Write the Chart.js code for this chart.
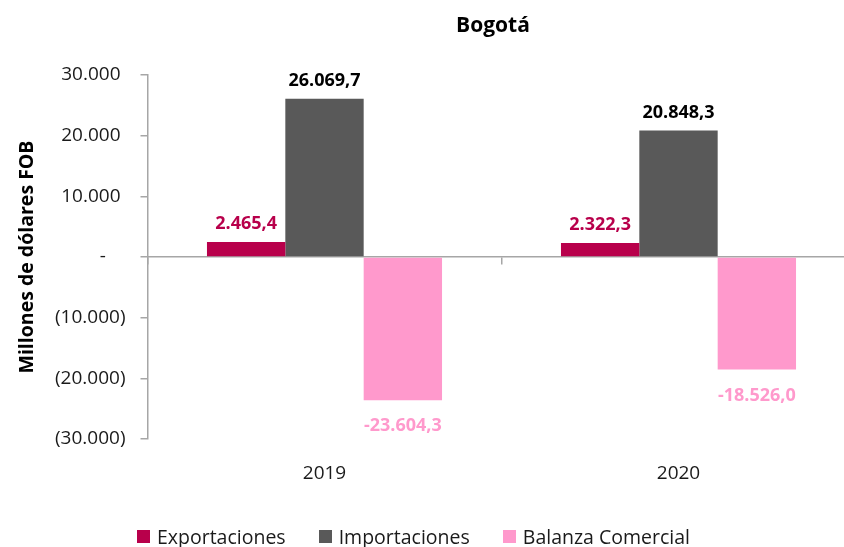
<!DOCTYPE html>
<html>
<head>
<meta charset="utf-8">
<script src="https://cdn.jsdelivr.net/npm/chart.js@4.4.1/dist/chart.umd.min.js"></script>
<style>
    html, body { margin: 0; padding: 0; background: #fff; overflow: hidden; }
    #wrap { position: relative; width: 844px; height: 547px; overflow: hidden; font-family: 'Open Sans', sans-serif; }
    #chart { position: absolute; left: 0; top: 0; }
    #title { position: absolute; top: 10px; left: 0; width: 986px; text-align: center; font-weight: bold; font-size: 21px; color: #000; }
    #legend { position: absolute; top: 523px; left: 137px; display: flex; font-size: 19.5px; color: #1a1a1a; white-space: nowrap; }
    #legend .item { display: flex; align-items: center; margin-right: 33px; }
    #legend .box { width: 13px; height: 13px; margin-right: 7px; }
</style>
</head>
<body>
<div id="wrap">
    <canvas id="chart" width="870" height="547"></canvas>
    <div id="title">Bogotá</div>
    <div id="legend"></div>
</div>
<script>
// Data
const years = ['2019', '2020'];
const exportaciones = [2465.4, 2322.3];
const importaciones = [26069.7, 20848.3];
const balanza = [-23604.3, -18526.0];
const seriesNames = ['Exportaciones', 'Importaciones', 'Balanza Comercial'];
const yTicks = [-30000, -20000, -10000, 0, 10000, 20000, 30000];

const colors = ['#b8004b', '#595959', '#ff99cc'];
const labelColors = ['#b8004b', '#000000', '#ff99cc'];
const FONT = "'Open Sans', sans-serif";

// 2.465,4 style
function fmtNum(v, dec) {
    const parts = Math.abs(v).toFixed(dec).split('.');
    const intPart = parts[0].replace(/\B(?=(\d{3})+(?!\d))/g, '.');
    return (v < 0 ? '-' : '') + intPart + (dec > 0 ? ',' + parts[1] : '');
}

// accounting style tick labels: 30.000 / - / (10.000)
function fmtTick(v) {
    if (v === 0) return '-    ';
    if (v < 0) return '(' + fmtNum(-v, 0) + ')';
    return fmtNum(v, 0) + ' ';
}

// Data labels drawn from bar elements
const barLabels = {
    id: 'barLabels',
    afterDatasetsDraw(chart) {
        const ctx = chart.ctx;
        ctx.save();
        ctx.font = 'bold 18px ' + FONT;
        ctx.textAlign = 'center';
        ctx.textBaseline = 'middle';
        chart.data.datasets.forEach((ds, i) => {
            const meta = chart.getDatasetMeta(i);
            meta.data.forEach((bar, j) => {
                const v = ds.data[j];
                ctx.fillStyle = labelColors[i];
                const y = v >= 0 ? bar.y - 18 : bar.y + 26;
                ctx.fillText(fmtNum(v, 1), bar.x, y);
            });
        });
        ctx.restore();
    }
};

const seriesData = [exportaciones, importaciones, balanza];

const chart = new Chart(document.getElementById('chart'), {
    type: 'bar',
    data: {
        labels: years,
        datasets: seriesData.map((d, i) => ({
            label: seriesNames[i],
            data: d,
            backgroundColor: colors[i],
            borderWidth: 0,
            categoryPercentage: 0.664,
            barPercentage: 1.0,
            xAxisID: 'x'
        }))
    },
    options: {
        responsive: false,
        animation: false,
        layout: { padding: { top: 75, right: 14.5, bottom: 60, left: 0 } },
        plugins: {
            legend: { display: false },
            tooltip: { enabled: false }
        },
        scales: {
            x: {
                position: 'bottom',
                grid: { display: false, drawTicks: false },
                border: { display: false },
                ticks: { color: '#1a1a1a', font: { family: FONT, size: 19 }, padding: 23 },
                afterFit: (s) => { s.height = 48; }
            },
            xz: {
                type: 'category',
                position: { y: 0 },
                grid: { offset: true, drawOnChartArea: false, drawTicks: true, tickLength: 7, color: '#a6a6a6', lineWidth: 1.5 },
                border: { display: true, color: '#a6a6a6', width: 1.5 },
                ticks: { display: false }
            },
            y: {
                min: -30000,
                max: 30000,
                afterBuildTicks: (s) => { s.ticks = yTicks.map(v => ({ value: v })); },
                afterFit: (s) => { s.width = 147.5; },
                grid: { drawOnChartArea: false, drawTicks: true, tickLength: 7, color: '#a6a6a6', lineWidth: 1.5 },
                border: { display: true, color: '#a6a6a6', width: 1.5 },
                ticks: {
                    color: '#1a1a1a',
                    font: { family: FONT, size: 19 },
                    padding: 15,
                    callback: (v) => fmtTick(v)
                },
                title: {
                    display: true,
                    text: 'Millones de dólares FOB',
                    color: '#000',
                    font: { family: FONT, size: 19.5, weight: 'bold' },
                    padding: { top: 16, bottom: 0 }
                }
            }
        }
    },
    plugins: [barLabels]
});

// Legend
const legendEl = document.getElementById('legend');
legendEl.innerHTML = seriesNames.map((n, i) =>
    `<div class="item"><span class="box" style="background:${colors[i]}"></span><span>${n}</span></div>`
).join('');
</script>
</body>
</html>
